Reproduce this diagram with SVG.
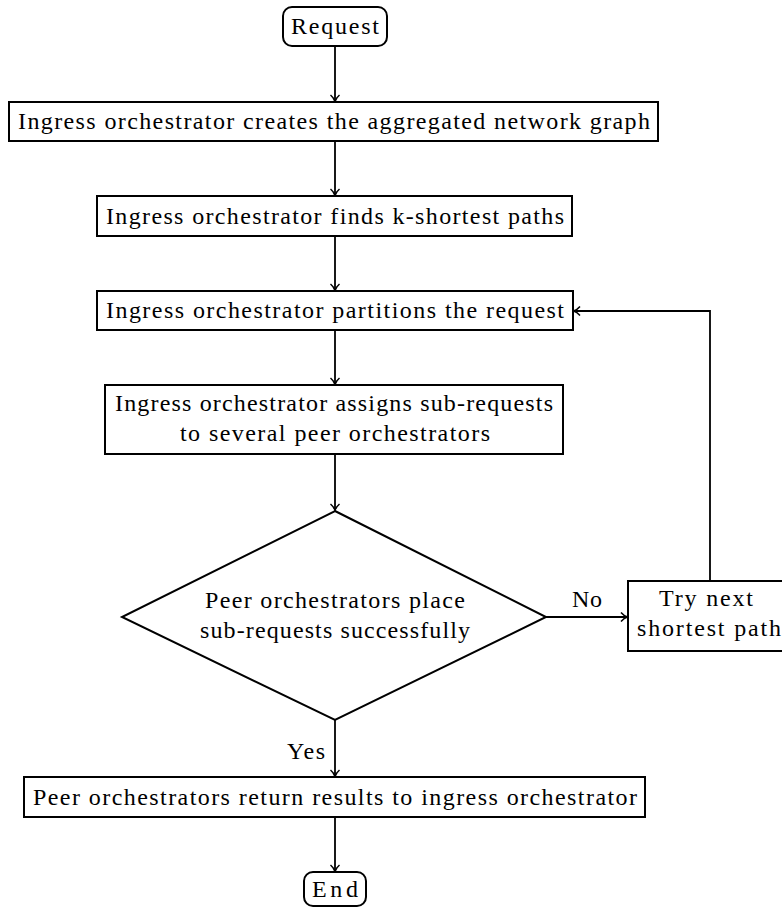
<svg xmlns="http://www.w3.org/2000/svg" width="782" height="907" viewBox="0 0 782 907">
  <style>
    .box { fill: #fff; stroke: #000; stroke-width: 2; }
    .lbl { font-family: "Liberation Serif", serif; font-size: 24px; font-weight: normal; fill: #000; }
    .mid { text-anchor: middle; }
    .wire { fill: none; stroke: #000; stroke-width: 1.8; }
  </style>
  <defs>
    <marker id="to" markerWidth="12" markerHeight="12" refX="9" refY="6" orient="auto" markerUnits="userSpaceOnUse">
      <path d="M3,1.5 Q6,5 9.5,6 Q6,7 3,10.5" fill="none" stroke="#000" stroke-width="1.5"/>
    </marker>
  </defs>

  <g id="connectors">
    <line class="wire" x1="335" y1="46" x2="335" y2="101" marker-end="url(#to)"/>
    <line class="wire" x1="335" y1="141" x2="335" y2="195" marker-end="url(#to)"/>
    <line class="wire" x1="335" y1="236" x2="335" y2="290" marker-end="url(#to)"/>
    <line class="wire" x1="335" y1="330" x2="335" y2="384" marker-end="url(#to)"/>
    <line class="wire" x1="335" y1="454" x2="335" y2="510" marker-end="url(#to)"/>
    <line class="wire" x1="546" y1="617" x2="627" y2="617" marker-end="url(#to)"/>
    <polyline class="wire" points="710,581 710,311 574,311" marker-end="url(#to)"/>
    <line class="wire" x1="335" y1="720" x2="335" y2="776" marker-end="url(#to)"/>
    <line class="wire" x1="335" y1="817" x2="335" y2="871" marker-end="url(#to)"/>
    <text class="lbl mid" x="587" y="607" textLength="30" lengthAdjust="spacing">No</text>
    <text class="lbl mid" x="306" y="759" textLength="38" lengthAdjust="spacing">Yes</text>
  </g>

  <g id="start">
    <rect class="box" x="283" y="7" width="104" height="39" rx="9"/>
    <text class="lbl mid" x="335" y="34" textLength="88" lengthAdjust="spacing">Request</text>
  </g>

  <g id="aggregate">
    <rect class="box" x="9" y="102" width="649" height="39"/>
    <text class="lbl" x="18" y="129" textLength="632" lengthAdjust="spacing">Ingress orchestrator creates the aggregated network graph</text>
  </g>

  <g id="kshortest">
    <rect class="box" x="97" y="196" width="475" height="40"/>
    <text class="lbl" x="106" y="224" textLength="458" lengthAdjust="spacing">Ingress orchestrator finds k-shortest paths</text>
  </g>

  <g id="partition">
    <rect class="box" x="97" y="291" width="476" height="39"/>
    <text class="lbl" x="106" y="318" textLength="458" lengthAdjust="spacing">Ingress orchestrator partitions the request</text>
  </g>

  <g id="assign">
    <rect class="box" x="105" y="385" width="458" height="69"/>
    <text class="lbl" x="115" y="411" textLength="438" lengthAdjust="spacing">Ingress orchestrator assigns sub-requests</text>
    <text class="lbl" x="180" y="441" textLength="310" lengthAdjust="spacing">to several peer orchestrators</text>
  </g>

  <g id="decision">
    <polygon class="box" points="335,511 546,617 335,720 122,617"/>
    <text class="lbl" x="205" y="608" textLength="260" lengthAdjust="spacing">Peer orchestrators place</text>
    <text class="lbl" x="200" y="638" textLength="270" lengthAdjust="spacing">sub-requests successfully</text>
  </g>

  <g id="retry">
    <rect class="box" x="628" y="581" width="160" height="70"/>
    <text class="lbl" x="706" y="606" text-anchor="middle" textLength="94" lengthAdjust="spacing">Try next</text>
    <text class="lbl" x="637" y="636" textLength="144" lengthAdjust="spacing">shortest path</text>
  </g>

  <g id="results">
    <rect class="box" x="24" y="777" width="621" height="40"/>
    <text class="lbl" x="33" y="805" textLength="604" lengthAdjust="spacing">Peer orchestrators return results to ingress orchestrator</text>
  </g>

  <g id="end">
    <rect class="box" x="304" y="872" width="62" height="34" rx="9"/>
    <text class="lbl mid" x="335" y="897" textLength="46" lengthAdjust="spacing">End</text>
  </g>
</svg>
